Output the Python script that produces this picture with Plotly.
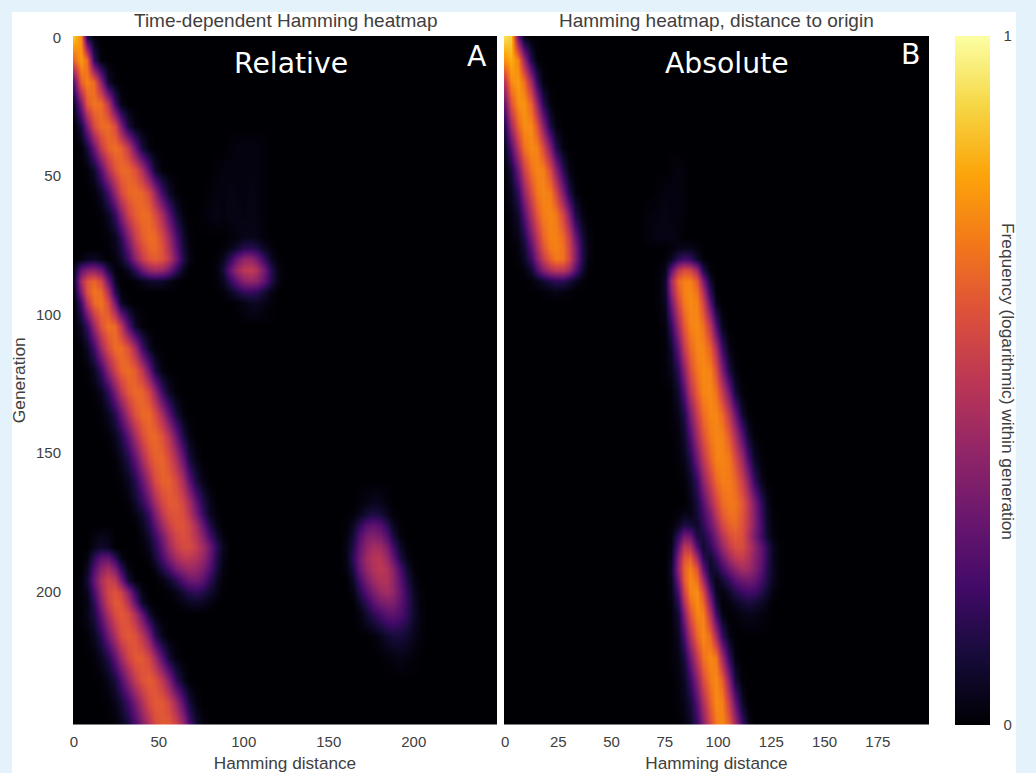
import numpy as np
import plotly.graph_objects as go

W, H = 1036, 773
GENERATIONS = [0, 8, 16, 24, 32, 40, 48, 56, 64, 72, 76, 80, 84, 88, 92, 96, 104, 112, 120, 128, 136, 144,
               152, 160, 168, 172, 176, 180, 184, 188, 192, 196, 200, 204, 208, 216, 224, 232, 240, 248]
A_STEP, A_COLS = 4, 63
B_STEP, B_COLS = 3, 67

# (generation, first Hamming distance, values read across the row)
A_STREAK_1 = [
    (0, 0, [.86, .74, .12, .01]),
    (8, 0, [.66, .78, .66, .16, .01]),
    (16, 0, [.28, .64, .72, .66, .38, .08, .01]),
    (24, 0, [.08, .34, .62, .69, .67, .50, .20, .03]),
    (32, 0, [.01, .11, .34, .58, .67, .67, .58, .34, .11, .02]),
    (40, 4, [.01, .10, .30, .52, .64, .68, .64, .52, .30, .10, .02]),
    (48, 8, [.01, .08, .25, .46, .60, .66, .66, .60, .46, .25, .08, .01]),
    (56, 12, [.01, .07, .20, .40, .57, .65, .67, .65, .57, .40, .20, .07, .01]),
    (64, 16, [.01, .06, .17, .36, .54, .63, .67, .66, .58, .45, .26, .10, .02]),
    (72, 20, [.01, .05, .16, .35, .53, .63, .67, .66, .57, .42, .23, .08, .01]),
    (76, 20, [.01, .04, .11, .27, .46, .58, .65, .66, .60, .46, .27, .10, .02]),
    (80, 24, [.02, .07, .19, .37, .52, .60, .63, .60, .50, .32, .13, .03]),
    (84, 28, [.01, .05, .16, .30, .40, .43, .41, .32, .17, .05]),
    (88, 36, [.01, .04, .07, .08, .07, .04, .01]),
]
A_STREAK_2 = [
    (80, 4, [.02, .05, .06, .03]),
    (84, 0, [.05, .28, .36, .38, .30, .12, .01]),
    (88, 0, [.08, .44, .60, .65, .56, .30, .06]),
    (92, 0, [.05, .36, .60, .69, .66, .46, .14, .01]),
    (96, 0, [.02, .20, .48, .66, .69, .58, .32, .06, .01]),
    (104, 0, [.01, .06, .18, .42, .60, .68, .66, .50, .25, .07, .01]),
    (112, 4, [.01, .06, .20, .42, .58, .67, .67, .60, .44, .20, .06, .01]),
    (120, 8, [.01, .06, .19, .39, .55, .65, .67, .63, .50, .30, .11, .02]),
    (128, 12, [.01, .05, .16, .34, .50, .62, .66, .65, .56, .40, .19, .06, .01]),
    (136, 16, [.01, .05, .14, .29, .46, .60, .66, .66, .58, .44, .26, .10, .02]),
    (144, 20, [.01, .05, .13, .27, .44, .58, .65, .66, .60, .48, .30, .12, .03]),
    (152, 24, [.01, .05, .13, .27, .44, .58, .64, .65, .58, .46, .29, .11, .03]),
    (160, 28, [.01, .05, .14, .28, .44, .58, .64, .64, .57, .45, .27, .11, .03]),
    (168, 32, [.01, .07, .16, .29, .44, .56, .62, .62, .56, .45, .28, .13, .04]),
    (172, 36, [.03, .08, .19, .35, .50, .59, .61, .58, .49, .34, .17, .05, .01]),
    (176, 40, [.05, .14, .27, .42, .54, .60, .60, .55, .44, .28, .12, .03]),
    (180, 40, [.02, .09, .19, .33, .47, .56, .59, .56, .48, .36, .20, .08, .02]),
    (184, 40, [.01, .05, .14, .27, .42, .52, .57, .58, .52, .43, .30, .14, .05]),
    (188, 44, [.02, .10, .21, .34, .44, .50, .50, .47, .40, .28, .12, .03]),
    (192, 48, [.03, .12, .21, .32, .38, .42, .40, .34, .23, .10, .02]),
    (196, 52, [.02, .08, .15, .24, .30, .31, .26, .15, .06, .01]),
    (200, 56, [.01, .04, .09, .14, .16, .13, .08, .03]),
    (204, 60, [.01, .03, .05, .06, .05, .02]),
]
A_STREAK_3 = [
    (180, 12, [.02, .04, .03]),
    (184, 12, [.04, .07, .05]),
    (188, 8, [.02, .16, .27, .28, .16, .03]),
    (192, 8, [.06, .24, .38, .44, .35, .17, .03]),
    (196, 4, [.01, .09, .29, .46, .54, .50, .32, .09, .01]),
    (200, 4, [.01, .05, .22, .42, .56, .60, .54, .38, .17, .03]),
    (204, 4, [.01, .03, .16, .37, .53, .62, .60, .48, .28, .07, .01]),
    (208, 4, [.01, .04, .12, .29, .46, .58, .62, .58, .46, .28, .09, .02]),
    (216, 8, [.01, .05, .15, .31, .46, .58, .62, .60, .50, .35, .15, .04]),
    (224, 12, [.01, .05, .13, .27, .42, .55, .62, .62, .56, .43, .25, .09, .02]),
    (232, 16, [.01, .04, .11, .23, .38, .52, .60, .63, .60, .50, .35, .16, .05]),
    (240, 20, [.01, .04, .10, .20, .33, .47, .58, .62, .62, .55, .42, .25, .10, .02]),
    (248, 24, [.01, .04, .10, .21, .34, .47, .58, .62, .62, .55, .42, .23, .09, .02]),
]
A_BLOB_1 = [
    (72, 92, [.01, .02, .04, .04, .03, .01]),
    (76, 88, [.01, .04, .08, .14, .15, .12, .06, .02]),
    (80, 84, [.01, .05, .16, .30, .39, .39, .32, .18, .06, .01]),
    (84, 84, [.02, .10, .28, .42, .50, .52, .46, .32, .14, .03]),
    (88, 84, [.01, .05, .16, .28, .37, .40, .37, .27, .13, .03]),
    (92, 88, [.01, .05, .11, .16, .17, .15, .09, .03]),
    (96, 96, [.01, .03, .05, .05, .03, .01]),
]
A_BLOB_2 = [
    (168, 168, [.01, .03, .05, .04, .02]),
    (172, 164, [.01, .04, .09, .12, .10, .05, .01]),
    (176, 160, [.01, .06, .15, .24, .27, .24, .15, .05, .01]),
    (180, 160, [.02, .09, .23, .33, .36, .33, .24, .11, .02]),
    (184, 160, [.03, .13, .27, .38, .44, .43, .34, .20, .07, .01]),
    (188, 160, [.03, .16, .30, .42, .48, .49, .41, .28, .12, .03]),
    (192, 160, [.02, .12, .28, .39, .47, .50, .47, .37, .22, .08, .01]),
    (196, 164, [.07, .20, .33, .42, .47, .47, .39, .26, .12, .03]),
    (200, 164, [.03, .13, .24, .34, .41, .44, .39, .29, .16, .05, .01]),
    (204, 168, [.06, .15, .25, .32, .35, .34, .27, .17, .07, .01]),
    (208, 168, [.02, .08, .15, .21, .26, .27, .23, .16, .07, .02]),
    (216, 176, [.01, .04, .08, .10, .10, .08, .04, .01]),
    (224, 184, [.01, .02, .03, .02, .01]),
]
A_HAZE = [
    (40, 92, [.01, .02, .02, .02, .02, .01]),
    (48, 84, [.01, .02, .02, .02, .02, .02, .02, .01]),
    (56, 80, [.01, .02, .02, .03, .02, .02, .03, .02, .01]),
    (64, 76, [.01, .02, .03, .02, .03, .03, .02, .03, .02, .01]),
]

B_STREAK_1 = [
    (0, 0, [.92, .88, .30, .03]),
    (8, 0, [.76, .82, .72, .42, .13, .01]),
    (16, 0, [.50, .74, .78, .68, .44, .16, .02]),
    (24, 0, [.30, .60, .75, .76, .65, .40, .15, .02]),
    (32, 0, [.14, .43, .65, .75, .74, .60, .37, .12, .02]),
    (40, 0, [.06, .24, .50, .68, .74, .72, .58, .36, .13, .02]),
    (48, 0, [.02, .10, .31, .54, .68, .73, .72, .58, .37, .15, .03]),
    (56, 0, [.01, .05, .17, .39, .58, .70, .73, .71, .56, .34, .13, .02]),
    (64, 3, [.02, .08, .25, .46, .62, .71, .73, .70, .56, .36, .13, .03]),
    (72, 3, [.01, .04, .13, .33, .50, .65, .72, .72, .66, .52, .30, .10, .02]),
    (76, 6, [.02, .09, .25, .44, .60, .70, .72, .68, .55, .36, .13, .03]),
    (80, 6, [.01, .06, .18, .36, .52, .64, .70, .68, .56, .36, .13, .02]),
    (84, 9, [.02, .08, .23, .36, .46, .50, .50, .42, .26, .09, .01]),
    (88, 12, [.01, .04, .08, .12, .15, .15, .10, .05, .01]),
    (92, 18, [.01, .02, .03, .02, .01]),
]
B_STREAK_2 = [
    (76, 78, [.01, .03, .04, .04, .02]),
    (80, 75, [.01, .05, .16, .20, .18, .07, .01]),
    (84, 72, [.01, .04, .27, .50, .58, .56, .41, .13, .01]),
    (88, 72, [.01, .07, .43, .66, .72, .72, .62, .34, .08]),
    (92, 72, [.01, .07, .39, .62, .72, .74, .68, .47, .16, .01]),
    (96, 72, [.01, .05, .31, .56, .70, .74, .72, .56, .27, .04]),
    (104, 75, [.02, .17, .42, .62, .72, .74, .68, .50, .23, .04]),
    (112, 75, [.01, .08, .28, .52, .66, .73, .73, .64, .45, .19, .03]),
    (120, 75, [.01, .04, .16, .38, .58, .70, .74, .72, .58, .35, .11, .02]),
    (128, 78, [.01, .08, .25, .48, .64, .73, .74, .68, .52, .31, .09, .01]),
    (136, 78, [.01, .04, .13, .34, .54, .67, .73, .73, .66, .50, .30, .08, .01]),
    (144, 81, [.02, .08, .23, .44, .60, .70, .73, .72, .62, .46, .26, .08, .01]),
    (152, 81, [.01, .04, .13, .32, .50, .64, .72, .73, .70, .58, .42, .22, .07, .01]),
    (160, 84, [.01, .06, .18, .38, .54, .66, .71, .71, .66, .54, .38, .18, .05]),
    (168, 87, [.03, .11, .25, .42, .56, .66, .70, .69, .62, .50, .35, .17, .05]),
    (172, 87, [.02, .09, .20, .34, .50, .62, .68, .68, .61, .50, .36, .19, .06, .01]),
    (176, 87, [.01, .07, .16, .29, .42, .56, .64, .66, .60, .50, .37, .21, .07, .01]),
    (180, 87, [.01, .04, .11, .21, .34, .48, .58, .62, .59, .47, .34, .20, .08, .02]),
    (184, 90, [.02, .08, .16, .27, .40, .52, .58, .58, .50, .40, .28, .15, .05, .01]),
    (188, 93, [.03, .08, .17, .30, .42, .50, .52, .47, .38, .28, .15, .05, .01]),
    (192, 96, [.04, .10, .19, .30, .38, .44, .42, .36, .26, .14, .05, .01]),
    (196, 99, [.03, .09, .17, .25, .30, .32, .29, .21, .12, .05, .01]),
    (200, 102, [.02, .07, .13, .18, .20, .19, .14, .08, .02]),
    (204, 105, [.02, .05, .08, .10, .09, .06, .03]),
    (208, 108, [.01, .03, .04, .04, .02, .01]),
]
B_STREAK_3 = [
    (172, 81, [.01, .04, .03, .01]),
    (176, 78, [.01, .05, .12, .10, .03]),
    (180, 78, [.02, .17, .32, .30, .11, .01]),
    (184, 78, [.03, .27, .50, .48, .23, .06]),
    (188, 78, [.05, .36, .60, .64, .42, .15, .02]),
    (192, 78, [.07, .39, .64, .72, .60, .28, .07, .01]),
    (196, 78, [.05, .32, .62, .74, .68, .43, .13, .01]),
    (200, 78, [.03, .22, .55, .72, .75, .58, .26, .05]),
    (204, 78, [.02, .15, .46, .67, .75, .66, .37, .10, .01]),
    (208, 78, [.01, .09, .36, .60, .73, .72, .48, .19, .03]),
    (216, 78, [.01, .05, .22, .46, .66, .74, .66, .44, .18, .03]),
    (224, 78, [.01, .03, .11, .30, .52, .68, .74, .70, .44, .17, .02]),
    (232, 81, [.02, .06, .18, .38, .58, .70, .74, .64, .36, .10, .01]),
    (240, 81, [.01, .04, .10, .26, .46, .64, .74, .72, .52, .28, .07]),
    (248, 84, [.02, .06, .17, .36, .56, .70, .74, .64, .44, .20, .05]),
]
B_HAZE = [
    (48, 78, [.01, .02, .01]),
    (56, 72, [.01, .02, .02, .02, .01]),
    (64, 66, [.01, .02, .02, .03, .02, .02, .01]),
    (72, 66, [.01, .02, .03, .03, .03, .02]),
]

INFERNO = ["#000004", "#160b39", "#420a68", "#6a176e", "#932667", "#bc3754",
           "#dd513a", "#f37819", "#fca50a", "#f6d746", "#fcffa4"]
X_TICKS_A = [0, 50, 100, 150, 200]
X_TICKS_B = [0, 25, 50, 75, 100, 125, 150, 175]
Y_TICKS = [0, 50, 100, 150, 200]


def grid(step, cols, *groups):
    z = np.zeros((len(GENERATIONS), cols))
    for group in groups:
        for gen, start, vals in group:
            r = GENERATIONS.index(gen)
            c0 = start // step
            for k, v in enumerate(vals):
                z[r, c0 + k] = max(z[r, c0 + k], v)
    return z


z_a = grid(A_STEP, A_COLS, A_STREAK_1, A_STREAK_2, A_STREAK_3, A_BLOB_1, A_BLOB_2, A_HAZE)
z_b = grid(B_STEP, B_COLS, B_STREAK_1, B_STREAK_2, B_STREAK_3, B_HAZE)

fig = go.Figure()
fig.add_trace(go.Heatmap(z=z_a, x=[A_STEP * i for i in range(A_COLS)], y=GENERATIONS,
                         coloraxis="coloraxis", zsmooth="best", xaxis="x", yaxis="y", hoverinfo="skip"))
fig.add_trace(go.Heatmap(z=z_b, x=[B_STEP * i for i in range(B_COLS)], y=GENERATIONS,
                         coloraxis="coloraxis", zsmooth="best", xaxis="x2", yaxis="y2", hoverinfo="skip"))

TXT = "#404040"
FONT = "Liberation Sans, Arial, sans-serif"


def px(x):
    return x / W


def py(y):
    return 1 - y / H


hidden = "rgba(0,0,0,0)"
xcommon = dict(ticks="outside", ticklen=3, tickcolor=hidden, showgrid=False, zeroline=False,
               tickfont=dict(size=15, color=TXT), showline=False,
               title=dict(text="Hamming distance", font=dict(size=17.2, color=TXT), standoff=9))
fig.update_layout(
    width=W, height=H, autosize=False,
    margin=dict(l=0, r=0, t=0, b=0, pad=0, autoexpand=False),
    paper_bgcolor="#e4f2fb", plot_bgcolor="#000004",
    font=dict(family=FONT, color=TXT),
    xaxis=dict(domain=[px(73), px(497)], range=[-0.5, 249], tickvals=X_TICKS_A, anchor="y", **xcommon),
    xaxis2=dict(domain=[px(504), px(929)], range=[-0.5, 199], tickvals=X_TICKS_B, anchor="y2", **xcommon),
    yaxis=dict(domain=[py(724.5), py(36)], range=[248, -0.5], tickvals=Y_TICKS, ticks="outside", ticklen=8,
               tickcolor=hidden, showgrid=False, zeroline=False, tickfont=dict(size=15, color=TXT),
               title=dict(text="Generation", font=dict(size=17.4, color=TXT), standoff=5), anchor="x"),
    yaxis2=dict(domain=[py(724.5), py(36)], range=[248, -0.5], showticklabels=False, ticks="",
                showgrid=False, zeroline=False, anchor="x2"),
    coloraxis=dict(
        cmin=0, cmax=1,
        colorscale=[[i / 10, c] for i, c in enumerate(INFERNO)],
        colorbar=dict(x=px(955), xanchor="left", y=py(36), yanchor="top",
                      thickness=35, thicknessmode="pixels", len=689 / H, lenmode="fraction",
                      xpad=0, ypad=0, outlinewidth=0, tickvals=[0, 1], ticks="outside", ticklen=11,
                      tickcolor=hidden, tickfont=dict(size=15, color=TXT)),
    ),
    shapes=[dict(type="rect", xref="paper", yref="paper", x0=px(12), x1=px(1016), y0=-0.01, y1=py(12),
                 fillcolor="white", line_width=0, layer="below")],
    annotations=[
        dict(text="Time-dependent Hamming heatmap", x=px(285), y=py(20), font=dict(size=19, color=TXT)),
        dict(text="Hamming heatmap, distance to origin", x=px(716), y=py(20), font=dict(size=19, color=TXT)),
        dict(text="Relative", x=px(291), y=py(64), font=dict(size=28.3, color="white", family="DejaVu Sans")),
        dict(text="Absolute", x=px(727), y=py(64), font=dict(size=28.3, color="white", family="DejaVu Sans")),
        dict(text="A", x=px(477), y=py(57), font=dict(size=28.3, color="white", family="DejaVu Sans")),
        dict(text="B", x=px(910), y=py(54), font=dict(size=28.3, color="white", family="DejaVu Sans")),
        dict(text="Frequency (logarithmic) within generation", x=px(1008), y=py(381), textangle=90,
             font=dict(size=17.3, color=TXT)),
    ],
)
for a in fig.layout.annotations:
    a.update(xref="paper", yref="paper", showarrow=False, xanchor="center", yanchor="middle")

fig.write_html("out.html", config={"displayModeBar": False}, post_script=(
    "document.body.style.margin='0';document.body.style.background='#e4f2fb';"
    "document.documentElement.style.overflow='hidden';"))
